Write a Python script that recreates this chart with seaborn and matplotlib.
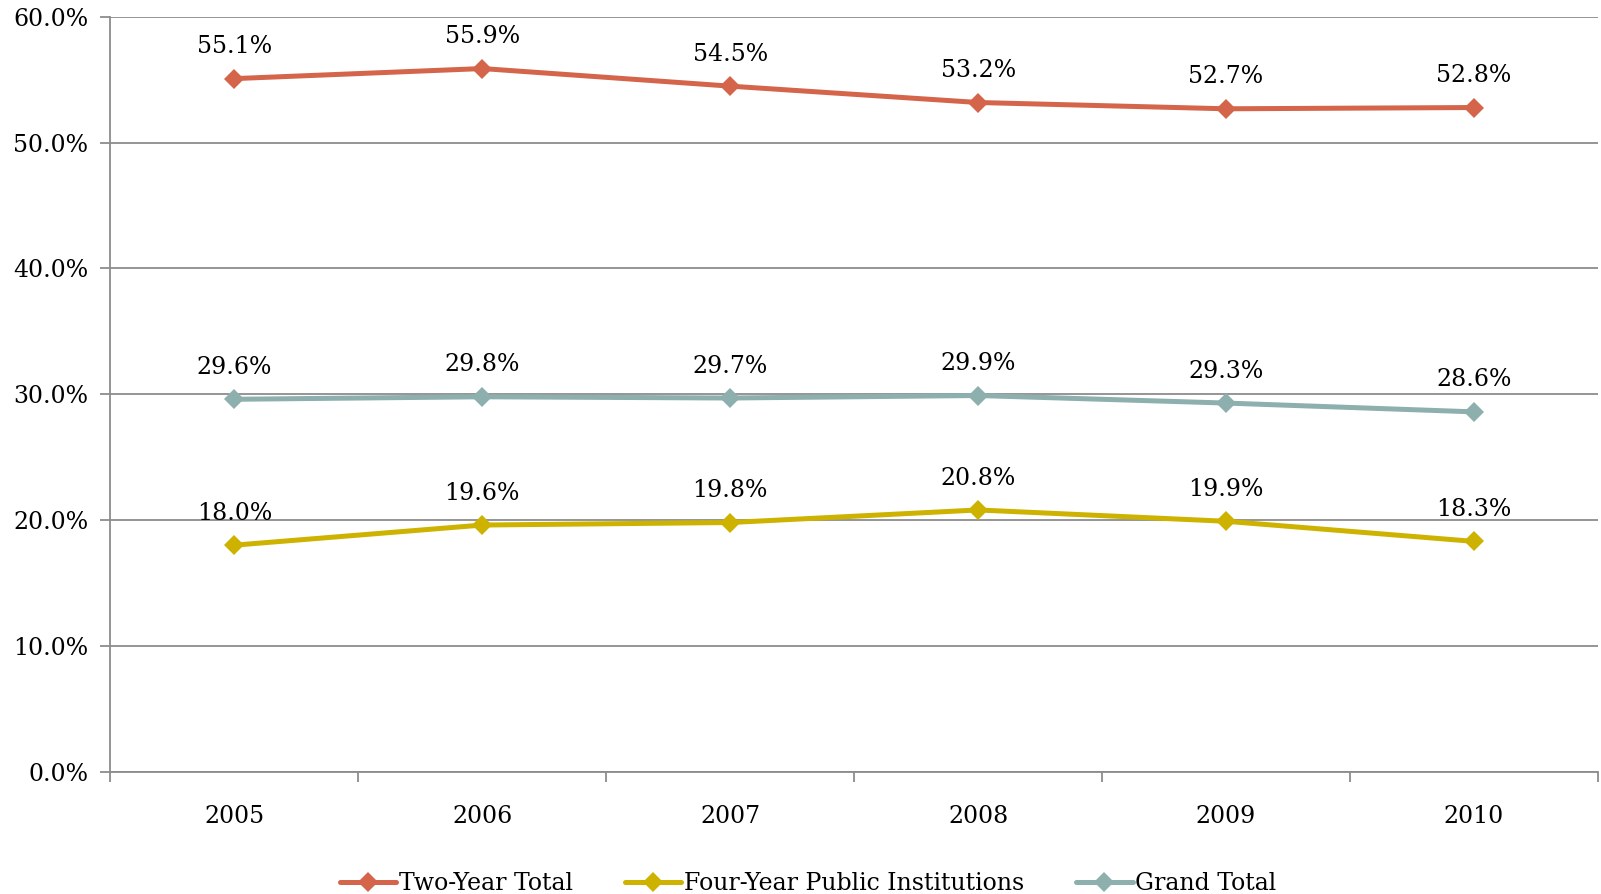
import pandas as pd
import matplotlib.pyplot as plt
import seaborn as sns
from matplotlib.ticker import FixedLocator, FuncFormatter

# chart data
years = ["2005", "2006", "2007", "2008", "2009", "2010"]
two_year = [55.1, 55.9, 54.5, 53.2, 52.7, 52.8]
four_year = [18.0, 19.6, 19.8, 20.8, 19.9, 18.3]
grand_total = [29.6, 29.8, 29.7, 29.9, 29.3, 28.6]
series_names = ["Two-Year Total", "Four-Year Public Institutions", "Grand Total"]
colors = ["#D4654A", "#CDB300", "#8DAFAE"]

# long form table for seaborn
df = pd.DataFrame({
    "Year": years * 3,
    "Value": two_year + four_year + grand_total,
    "Series": [n for n in series_names for _ in years],
})

sns.set_theme(style="white")
plt.rcParams["font.family"] = ["DejaVu Serif"]
plt.rcParams["text.color"] = "black"
plt.rcParams["xtick.color"] = "black"
plt.rcParams["ytick.color"] = "black"

fig, ax = plt.subplots(figsize=(16.01, 8.94), dpi=100)
fig.subplots_adjust(left=0.069, right=0.998, top=0.981, bottom=0.137)

sns.lineplot(
    data=df, x="Year", y="Value", hue="Series", style="Series",
    palette=dict(zip(series_names, colors)),
    markers={n: "D" for n in series_names}, dashes=False,
    linewidth=3.6, markersize=10, markeredgewidth=0, ax=ax,
)

# data labels above each point
for name, vals in zip(series_names, [two_year, four_year, grand_total]):
    for i, v in enumerate(vals):
        ax.annotate("{:.1f}%".format(v), (i, v), xytext=(0, 23),
                    textcoords="offset points", ha="center", va="center",
                    fontsize=17, color="black")

# axes styling
ax.set_xlim(-0.5, 5.5)
ax.set_ylim(0, 60)
ax.yaxis.set_major_locator(FixedLocator([0, 10, 20, 30, 40, 50, 60]))
ax.yaxis.set_major_formatter(FuncFormatter(lambda v, p: "{:.1f}%".format(v)))
ax.grid(axis="y", color="#8C8C8C", linewidth=1.3)
ax.set_axisbelow(True)
for s in ["top", "right"]:
    ax.spines[s].set_visible(False)
for s in ["left", "bottom"]:
    ax.spines[s].set_color("#8C8C8C")
    ax.spines[s].set_linewidth(1.3)

ax.set_xticks(range(len(years)))
ax.set_xticklabels(years)
ax.set_xticks([i - 0.5 for i in range(len(years) + 1)], minor=True)
ax.tick_params(axis="x", which="major", length=0, pad=24, labelsize=17,
               labelcolor="black")
ax.tick_params(axis="x", which="minor", length=7, width=1.3, color="#8C8C8C",
               direction="out", bottom=True)
ax.tick_params(axis="y", length=7, width=1.3, color="#8C8C8C", direction="out",
               left=True, labelsize=17, pad=9, labelcolor="black")
ax.set_xlabel("")
ax.set_ylabel("")

ax.legend(loc="upper center", bbox_to_anchor=(0.469, -0.105), ncol=3,
          frameon=False, fontsize=17, handlelength=2.4, columnspacing=2.2,
          handletextpad=0.1)

fig.savefig("out.png", dpi=100)
